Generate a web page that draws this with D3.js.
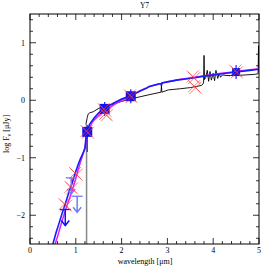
<!DOCTYPE html>
<html><head><meta charset="utf-8">
<script src="https://cdn.jsdelivr.net/npm/d3@7"></script>
<style>body{margin:0;background:#fff}svg{display:block}text{font-family:"Liberation Serif","DejaVu Serif",serif;fill:#000}</style>
</head><body>
<script>
const title = "Y7";
const xTicks = [0,1,2,3,4,5];
const yTicks = [-2,-1,0,1];
// black model spectrum [wavelength, logF]
const blackWl = [1.22,1.25,1.27,1.3,1.38,1.49,1.6,1.82,2.0,2.18,2.4,2.62,2.86,2.87,2.88,3.02,3.28,3.5,3.64,3.75,3.79,3.80,3.81,3.84,3.87,3.9,3.93,3.96,4.0,4.03,4.06,4.1,4.13,4.16,4.2,4.3,4.5,4.7,4.9,4.98,4.99,5.0];
const blackF  = [-0.42,-0.3,-0.24,-0.22,-0.2,-0.145,-0.11,-0.07,-0.02,0.02,0.06,0.10,0.14,0.25,0.14,0.18,0.2,0.22,0.24,0.26,0.3,0.78,0.36,0.4,0.52,0.33,0.5,0.35,0.47,0.34,0.52,0.38,0.47,0.4,0.44,0.43,0.43,0.44,0.45,0.46,0.95,0.48];
// blue fitted SED
const blueWl = [0.5,0.57,0.63,0.7,0.78,0.85,0.92,1.0,1.05,1.1,1.15,1.2,1.22,1.25,1.3,1.4,1.5,1.6,1.67,1.8,2.0,2.2,2.4,2.55,2.6,2.8,2.86,2.87,2.88,3.0,3.2,3.4,3.6,3.8,4.0,4.2,4.5,4.8,5.0];
const blueF  = [-2.5,-2.3,-2.15,-1.97,-1.78,-1.6,-1.44,-1.24,-1.12,-1.02,-0.93,-0.84,-0.66,-0.53,-0.42,-0.31,-0.22,-0.16,-0.12,-0.06,0.02,0.08,0.16,0.21,0.24,0.28,0.29,0.25,0.3,0.32,0.35,0.37,0.39,0.42,0.44,0.46,0.49,0.52,0.54];
// magenta fitted SED
const magWl = [0.55,0.62,0.7,0.8,0.9,1.0,1.1,1.18,1.23,1.27,1.35,1.5,1.7,2.0,2.2,2.5,3.0,3.5,4.0,4.5,5.0];
const magF  = [-2.5,-2.32,-2.1,-1.85,-1.62,-1.36,-1.08,-0.88,-0.7,-0.55,-0.4,-0.27,-0.15,0.0,0.07,0.2,0.32,0.39,0.45,0.5,0.55];
// photometry detections
const detWl = [1.25,1.63,2.2,4.5];
const detF  = [-0.55,-0.15,0.07,0.49];
// model photometry (red crosses)
const crossWl = [0.77,0.9,1.0,1.25,1.63,1.66,2.2,3.57,3.6,4.5];
const crossF  = [-1.82,-1.52,-1.28,-0.55,-0.17,-0.25,0.07,0.40,0.23,0.5];
// upper limits
const limWl = [0.9,1.03,0.77];
const limF  = [-1.35,-1.67,-1.9];
const limLight = [true,true,false];

const W=274,H=274, L=30,R=259,T=14,B=244;
const svg = d3.select("body").append("svg").attr("width",W).attr("height",H);
const x = d3.scaleLinear().domain([0,5]).range([L,R]);
const y = d3.scaleLinear().domain([-2.5,1.5]).range([B,T]);
svg.append("clipPath").attr("id","c").append("rect").attr("x",L).attr("y",T).attr("width",R-L).attr("height",B-T);
const pg = svg.append("g").attr("clip-path","url(#c)");

// gray vertical line
pg.append("line").attr("x1",x(1.235)).attr("x2",x(1.235)).attr("y1",y(-2.5)).attr("y2",y(-0.42)).attr("stroke","#888").attr("stroke-width",1.5);

const line = d3.line().x(d=>x(d[0])).y(d=>y(d[1]));
pg.append("path").datum(blackWl.map((w,i)=>[w,blackF[i]])).attr("d",line).attr("fill","none").attr("stroke","#000").attr("stroke-width",0.9);
pg.append("path").datum(magWl.map((w,i)=>[w,magF[i]])).attr("d",d3.line().curve(d3.curveMonotoneX).x(d=>x(d[0])).y(d=>y(d[1]))).attr("fill","none").attr("stroke","#e020ff").attr("stroke-width",1.5);
pg.append("path").datum(blueWl.map((w,i)=>[w,blueF[i]])).attr("d",line).attr("fill","none").attr("stroke","#1a1aff").attr("stroke-width",1.6);

// upper limits
limWl.forEach((w,i)=>{
  const c = limLight[i] ? "#6a7dff" : "#1010ff";
  const cx=x(w), cy=y(limF[i]), ey=cy+16;
  pg.append("line").attr("x1",cx-5.5).attr("x2",cx+5.5).attr("y1",cy).attr("y2",cy).attr("stroke",c).attr("stroke-width",1.3);
  pg.append("line").attr("x1",cx).attr("x2",cx).attr("y1",cy).attr("y2",ey).attr("stroke",c).attr("stroke-width",1.5);
  pg.append("path").attr("d",`M${cx-4},${ey-5}L${cx},${ey}L${cx+4},${ey-5}`).attr("fill","none").attr("stroke",c).attr("stroke-width",1.5);
});

// detections
detWl.forEach((w,i)=>{
  const s = i===3?8:10;
  pg.append("line").attr("x1",x(w)).attr("x2",x(w)).attr("y1",y(detF[i])-7).attr("y2",y(detF[i])+ (i===0?20:7)).attr("stroke","#2020ff").attr("stroke-width",1.2);
  pg.append("rect").attr("x",x(w)-s/2).attr("y",y(detF[i])-s/2).attr("width",s).attr("height",s).attr("fill","#1010f0");
});

// red crosses
crossWl.forEach((w,i)=>{
  const cx=x(w), cy=y(crossF[i]);
  [[-1,-1],[1,1]].forEach(o=>{
    const r=6, ox=o[0]*0.8, oy=o[1]*0.8;
    pg.append("path").attr("d",`M${cx-r+ox},${cy-r+oy}L${cx+r+ox},${cy+r+oy}M${cx-r+ox},${cy+r+oy}L${cx+r+ox},${cy-r+oy}`)
      .attr("stroke","#ff3b3b").attr("stroke-opacity",0.75).attr("stroke-width",0.9).attr("fill","none");
  });
});

// frame
svg.append("rect").attr("x",L).attr("y",T).attr("width",R-L).attr("height",B-T).attr("fill","none").attr("stroke","#000").attr("stroke-width",1);

// ticks
const xMinor = d3.range(0,5.001,0.2), yMinor = d3.range(-2.4,1.5,0.2);
const tk = svg.append("g").attr("stroke","#000").attr("stroke-width",0.8);
xMinor.forEach(v=>{
  const major = Math.abs(v-Math.round(v))<1e-6, len = major?6:3;
  tk.append("line").attr("x1",x(v)).attr("x2",x(v)).attr("y1",B).attr("y2",B-len);
  tk.append("line").attr("x1",x(v)).attr("x2",x(v)).attr("y1",T).attr("y2",T+len);
});
yMinor.forEach(v=>{
  const major = Math.abs(v-Math.round(v))<1e-6, len = major?6:3;
  tk.append("line").attr("y1",y(v)).attr("y2",y(v)).attr("x1",L).attr("x2",L+len);
  tk.append("line").attr("y1",y(v)).attr("y2",y(v)).attr("x1",R).attr("x2",R-len);
});

// labels
xTicks.forEach(v=>svg.append("text").attr("x",x(v)).attr("y",253).attr("text-anchor","middle").attr("font-size",8).attr("fill","#000").text(v));
yTicks.forEach(v=>svg.append("text").attr("x",25).attr("y",y(v)+3).attr("text-anchor","end").attr("font-size",8).attr("fill","#000").text(v<0?"\u2212"+(-v):v));
svg.append("text").attr("x",(L+R)/2).attr("y",8).attr("text-anchor","middle").attr("font-size",7.5).attr("fill","#000").text(title);
svg.append("text").attr("x",145).attr("y",264).attr("text-anchor","middle").attr("font-size",8).attr("fill","#000").text("wavelength [\u03bcm]");
const yl = svg.append("text").attr("transform","translate(9,134) rotate(-90)").attr("text-anchor","middle").attr("font-size",8).attr("fill","#000");
yl.append("tspan").text("log F");
yl.append("tspan").attr("font-size",6).attr("dy",2).text("\u03bd");
yl.append("tspan").attr("dy",-2).text("  [\u03bcJy]");
</script>
</body></html>
